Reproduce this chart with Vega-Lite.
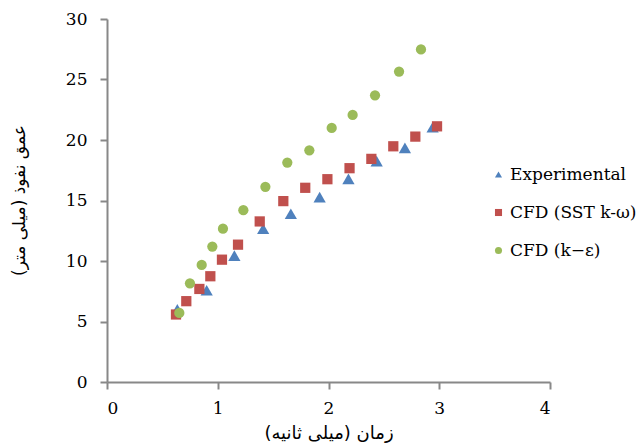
{
  "$schema": "https://vega.github.io/schema/vega-lite/v6.json",
  "autosize": "none",
  "width": 443,
  "height": 363,
  "padding": {"left": 107, "top": 19, "right": 91, "bottom": 65},
  "background": "white",
  "config": {"view": {"stroke": null}},
  "data": {"values": [
    {"series": "Experimental", "t": 0.635, "d": 6.0},
    {"series": "Experimental", "t": 0.90, "d": 7.58},
    {"series": "Experimental", "t": 1.15, "d": 10.44},
    {"series": "Experimental", "t": 1.41, "d": 12.67},
    {"series": "Experimental", "t": 1.66, "d": 13.9},
    {"series": "Experimental", "t": 1.92, "d": 15.28},
    {"series": "Experimental", "t": 2.18, "d": 16.79},
    {"series": "Experimental", "t": 2.435, "d": 18.25},
    {"series": "Experimental", "t": 2.69, "d": 19.35},
    {"series": "Experimental", "t": 2.94, "d": 21.05},
    {"series": "CFD (SST k-ω)", "t": 0.623, "d": 5.58},
    {"series": "CFD (SST k-ω)", "t": 0.716, "d": 6.68},
    {"series": "CFD (SST k-ω)", "t": 0.834, "d": 7.69},
    {"series": "CFD (SST k-ω)", "t": 0.933, "d": 8.74},
    {"series": "CFD (SST k-ω)", "t": 1.038, "d": 10.11},
    {"series": "CFD (SST k-ω)", "t": 1.183, "d": 11.35},
    {"series": "CFD (SST k-ω)", "t": 1.379, "d": 13.27},
    {"series": "CFD (SST k-ω)", "t": 1.592, "d": 14.95},
    {"series": "CFD (SST k-ω)", "t": 1.79, "d": 16.05},
    {"series": "CFD (SST k-ω)", "t": 1.99, "d": 16.76},
    {"series": "CFD (SST k-ω)", "t": 2.19, "d": 17.67},
    {"series": "CFD (SST k-ω)", "t": 2.387, "d": 18.44},
    {"series": "CFD (SST k-ω)", "t": 2.585, "d": 19.48},
    {"series": "CFD (SST k-ω)", "t": 2.784, "d": 20.28},
    {"series": "CFD (SST k-ω)", "t": 2.98, "d": 21.13},
    {"series": "CFD (k−ε)", "t": 0.653, "d": 5.71},
    {"series": "CFD (k−ε)", "t": 0.749, "d": 8.16},
    {"series": "CFD (k−ε)", "t": 0.855, "d": 9.67},
    {"series": "CFD (k−ε)", "t": 0.951, "d": 11.19},
    {"series": "CFD (k−ε)", "t": 1.047, "d": 12.67},
    {"series": "CFD (k−ε)", "t": 1.231, "d": 14.2},
    {"series": "CFD (k−ε)", "t": 1.43, "d": 16.13},
    {"series": "CFD (k−ε)", "t": 1.628, "d": 18.14},
    {"series": "CFD (k−ε)", "t": 1.827, "d": 19.15},
    {"series": "CFD (k−ε)", "t": 2.029, "d": 21.0},
    {"series": "CFD (k−ε)", "t": 2.218, "d": 22.07},
    {"series": "CFD (k−ε)", "t": 2.42, "d": 23.69},
    {"series": "CFD (k−ε)", "t": 2.637, "d": 25.66},
    {"series": "CFD (k−ε)", "t": 2.835, "d": 27.48}
  ]},
  "encoding": {
    "x": {
      "field": "t", "type": "quantitative",
      "scale": {"domain": [0, 4], "nice": false, "zero": true},
      "axis": {
        "values": [0, 1, 2, 3, 4], "grid": false,
        "title": "زمان (میلی ثانیه)",
        "titleFont": "DejaVu Sans", "titleFontSize": 18, "titleFontWeight": "normal", "titleColor": "#000",
        "titleBaseline": "middle", "titleY": 51,
        "labelFont": "DejaVu Serif", "labelFontSize": 17, "labelColor": "#000", "labelPadding": 11,
        "domainColor": "#888", "domainWidth": 2, "tickColor": "#888", "tickWidth": 2, "tickSize": 7
      }
    },
    "y": {
      "field": "d", "type": "quantitative",
      "scale": {"domain": [0, 30], "nice": false},
      "axis": {
        "values": [0, 5, 10, 15, 20, 25, 30], "grid": false,
        "title": "عمق نفوذ (میلی متر)",
        "titleFont": "DejaVu Sans", "titleFontSize": 17, "titleFontWeight": "normal", "titleColor": "#000",
        "titleX": -88, "titleY": 181, "titleAlign": "center", "titleBaseline": "middle", "titleAngle": -90,
        "labelFont": "DejaVu Serif", "labelFontSize": 17, "labelColor": "#000", "labelPadding": 13,
        "domainColor": "#888", "domainWidth": 2, "tickColor": "#888", "tickWidth": 2, "tickSize": 7
      }
    },
    "color": {
      "field": "series", "type": "nominal",
      "scale": {"domain": ["Experimental", "CFD (SST k-ω)", "CFD (k−ε)"], "range": ["#4F81BD", "#C0504D", "#9BBB59"]},
      "legend": {
        "title": null, "orient": "none", "legendX": 383, "legendY": 147,
        "labelFont": "DejaVu Serif", "labelFontSize": 17, "labelColor": "#000", "labelLimit": 200,
        "symbolSize": 50, "rowPadding": 20, "labelOffset": 3, "padding": 0
      }
    },
    "shape": {
      "field": "series", "type": "nominal",
      "scale": {"domain": ["Experimental", "CFD (SST k-ω)", "CFD (k−ε)"], "range": ["triangle-up", "square", "circle"]}
    }
  },
  "layer": [
    {
      "transform": [{"filter": "datum.series === 'Experimental'"}],
      "mark": {"type": "point", "filled": true, "opacity": 1, "strokeWidth": 0, "size": 150}
    },
    {
      "transform": [{"filter": "datum.series !== 'Experimental'"}],
      "mark": {"type": "point", "filled": true, "opacity": 1, "strokeWidth": 0, "size": 105}
    }
  ]
}
